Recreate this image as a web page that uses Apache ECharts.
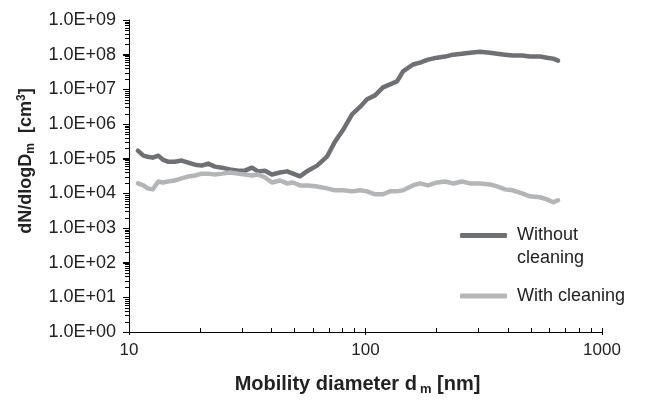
<!DOCTYPE html>
<html>
<head>
<meta charset="utf-8">
<script src="https://cdn.jsdelivr.net/npm/echarts@6/dist/echarts.min.js"></script>
<style>
  html, body { margin: 0; padding: 0; background: #fff; }
  #myChart { width: 652px; height: 401px; }
</style>
</head>
<body>
<div id="myChart"></div>
<script>
// mobility diameter [nm]
var diameters = [10.9, 11.5, 12.0, 12.6, 13.3, 13.9, 14.6, 15.6, 16.7, 17.8, 19.0, 20.3, 21.6, 23.1, 24.7, 26.7,
  28.9, 30.9, 33.1, 35.1, 37.6, 40.2, 43.5, 46.6, 49.4, 52.8, 57.1, 62.4, 68.7, 74.3, 80.3, 87.7, 94.8,
  101.5, 109.7, 118.6, 127, 135.9, 144.1, 158.8, 170, 183.8, 200.6, 216.9, 234.4, 255.9, 276.7, 304.9,
  336, 360, 389, 420, 459, 496, 547, 585, 621, 652];

// dN/dlogDm without cleaning
var withoutCleaning = [1.7e5, 1.22e5, 1.14e5, 1.07e5, 1.22e5, 9.4e4, 8.2e4, 8.2e4, 8.8e4, 7.7e4, 6.7e4, 6.3e4, 7.2e4, 5.9e4, 5.5e4, 4.9e4,
  4.5e4, 4.5e4, 5.5e4, 4.3e4, 4.5e4, 3.5e4, 4.0e4, 4.3e4, 3.7e4, 3.1e4, 4.5e4, 6.3e4, 1.14e5, 3.1e5, 6.7e5, 1.9e6, 3.1e6,
  5.2e6, 6.7e6, 1.14e7, 1.39e7, 1.7e7, 3.3e7, 5.2e7, 5.9e7, 7.2e7, 8.2e7, 8.8e7, 1.0e8, 1.07e8, 1.14e8, 1.22e8,
  1.14e8, 1.07e8, 1.0e8, 9.4e7, 9.4e7, 8.8e7, 8.8e7, 8.2e7, 7.7e7, 6.7e7];

// dN/dlogDm with cleaning
var withCleaning = [1.93e4, 1.69e4, 1.39e4, 1.3e4, 2.2e4, 2.06e4, 2.2e4, 2.35e4, 2.7e4, 3.06e4, 3.27e4, 3.7e4, 3.7e4, 3.5e4, 3.7e4, 4.0e4,
  3.7e4, 3.5e4, 3.27e4, 3.5e4, 2.86e4, 2.06e4, 2.35e4, 1.93e4, 2.06e4, 1.69e4, 1.69e4, 1.58e4, 1.39e4, 1.22e4, 1.22e4, 1.14e4, 1.22e4,
  1.14e4, 9.4e3, 9.4e3, 1.14e4, 1.14e4, 1.22e4, 1.69e4, 1.93e4, 1.69e4, 2.06e4, 2.2e4, 1.93e4, 2.2e4, 1.93e4, 1.93e4,
  1.81e4, 1.58e4, 1.3e4, 1.22e4, 1.0e4, 8.2e3, 7.7e3, 6.7e3, 5.5e3, 6.3e3];

var yTickLabels = ['1.0E+00', '1.0E+01', '1.0E+02', '1.0E+03', '1.0E+04', '1.0E+05', '1.0E+06', '1.0E+07', '1.0E+08', '1.0E+09'];
var xTickLabels = ['10', '100', '1000'];

var fontName = '"Liberation Sans", Arial, sans-serif';

// x ticks in log10 units (10,20..90,100,200..1000)
var xTicks = [];
for (var k = 1; k < 3; k++) {
  for (var m = 1; m < 10; m++) xTicks.push(k + Math.log10(m));
}
xTicks.push(3);

// y ticks: [value, tick length] for decades and 2..9 inside each decade
var yTicks = [];
for (var e = 0; e <= 9; e++) {
  var dec = Math.pow(10, e);
  yTicks.push([dec, 6]);
  if (e < 9) {
    for (var j = 2; j < 10; j++) yTicks.push([j * dec, 4]);
  }
}

function pairs(vals) {
  return diameters.map(function (d, i) { return [d, vals[i]]; });
}

var myChart = echarts.init(document.getElementById('myChart'));

var option = {
  animation: false,
  backgroundColor: '#fff',
  textStyle: { fontFamily: fontName },
  grid: { left: 129, right: 50, top: 20, bottom: 66 },
  legend: [{
    data: ['Without cleaning'],
    left: 460, top: 201,
    padding: 0,
    icon: 'roundRect', itemWidth: 47, itemHeight: 5,
    formatter: function () { return '\u00a0\nWithout\ncleaning'; },
    textStyle: { fontSize: 18, color: '#222', lineHeight: 23, padding: [0, 0, 0, 5] }
  }, {
    data: ['With cleaning'],
    left: 460, top: 287,
    padding: 0,
    icon: 'roundRect', itemWidth: 47, itemHeight: 5,
    textStyle: { fontSize: 18, color: '#222', padding: [0, 0, 0, 5] }
  }],
  xAxis: [{
    type: 'log', logBase: 10, min: 10, max: 1000,
    name: 'Mobility diameter d{sub|m} [nm]',
    nameLocation: 'middle', nameGap: 40,
    nameTextStyle: {
      fontSize: 20, fontWeight: 'bold', color: '#222', padding: [0, 16, 0, 0],
      rich: { sub: { fontSize: 13, fontWeight: 'bold', color: '#222', padding: [11, 0, 0, 3] } }
    },
    axisLine: { lineStyle: { color: '#000', width: 1 } },
    axisTick: { show: true, interval: 0, inside: false, length: 3, lineStyle: { color: '#000' } },
    axisLabel: {
      fontSize: 17, color: '#222', margin: 10,
      formatter: function (v) { return xTickLabels[Math.round(Math.log10(v)) - 1]; }
    },
    splitLine: { show: false }
  }, {
    type: 'value', min: 1, max: 3, position: 'bottom',
    axisLine: { show: false },
    axisTick: { show: true, inside: true, length: 4, customValues: xTicks, lineStyle: { color: '#000' } },
    axisLabel: { show: false },
    splitLine: { show: false }
  }],
  yAxis: [{
    type: 'log', logBase: 10, min: 1, max: 1e9,
    name: 'dN/dlogD{sub|m}  [cm{sup|3}]',
    nameLocation: 'middle', nameGap: 92,
    nameTextStyle: {
      fontSize: 18, fontWeight: 'bold', color: '#222', padding: [0, 0, 0, 30],
      rich: {
        sub: { fontSize: 12, fontWeight: 'bold', color: '#222', padding: [10, 0, 0, 0] },
        sup: { fontSize: 12, fontWeight: 'bold', color: '#222', padding: [0, 0, 8, 0] }
      }
    },
    axisLine: { show: true, lineStyle: { color: '#000', width: 1 } },
    axisTick: { show: true, interval: 0, inside: false, length: 6, lineStyle: { color: '#000' } },
    axisLabel: {
      fontSize: 18, color: '#222', margin: 13, interval: 0,
      formatter: function (v) { return yTickLabels[Math.round(Math.log10(v))]; }
    },
    splitLine: { show: false }
  }],
  series: [{
    name: 'Without cleaning',
    type: 'line',
    showSymbol: false,
    color: '#6f7073',
    lineStyle: { width: 4.5, cap: 'round', join: 'round' },
    data: pairs(withoutCleaning)
  }, {
    name: 'With cleaning',
    type: 'line',
    showSymbol: false,
    color: '#b4b5b7',
    lineStyle: { width: 4.5, cap: 'round', join: 'round' },
    data: pairs(withCleaning)
  }]
};

myChart.setOption(option);

// y axis tick marks as graphic lines, positioned through the log scale
var axisX = myChart.convertToPixel({ xAxisIndex: 0 }, 10);
var tickLines = yTicks.map(function (t) {
  var y = Math.round(myChart.convertToPixel({ yAxisIndex: 0 }, t[0])) + 0.5;
  return {
    type: 'line',
    z: 100,
    silent: true,
    shape: { x1: Math.round(axisX) - t[1], y1: y, x2: Math.round(axisX), y2: y },
    style: { stroke: '#000', lineWidth: 1 }
  };
});
myChart.setOption({ graphic: tickLines });
</script>
</body>
</html>
